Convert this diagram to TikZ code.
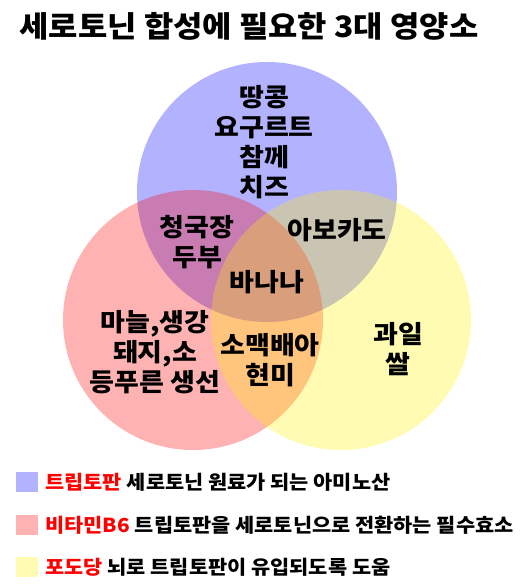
\documentclass[tikz,border=0pt]{standalone}
\usepackage{fontspec}
\setmainfont{Noto Sans CJK KR}[FakeStretch=1.08]
\usetikzlibrary{positioning}
\tikzset{set/.style={circle,inner sep=0pt,minimum size=260pt,fill opacity=0.3},
food/.style={align=center,inner sep=0pt,font=\fontsize{25}{30}\selectfont\bfseries},
title/.style={inner sep=0pt,font=\fontsize{29.5}{30}\selectfont\bfseries},
key/.style={rectangle,inner sep=0pt,minimum width=22pt,minimum height=20pt},
keytext/.style={inner sep=0pt,font=\fontsize{19.3}{20}\selectfont\bfseries}}
\newcommand{\keyentry}[5]{
\node (#1) [key,fill=#3!30] at (27,#2) {};
\node (capt#1) [keytext,right=7pt of #1] {\textcolor{red}{#4} #5};
}
\begin{document}
\begin{tikzpicture}[x=1pt,y=-1pt]
  \useasboundingbox (0,0) rectangle (526,586);
  \node (title) [title] at (249,26) {세로토닌 합성에 필요한 3대 영양소};

  \node (tryp) [set,fill=blue] at (267,192) {};
  \node (b6) [set,fill=red] at (193,320) {};
  \node (glu) [set,fill=yellow] at (341,320) {};

  \node (trypf) [food] at (264,142) {땅콩\\요구르트\\참께\\치즈};
  \node (trypb6f) [food] at (197,242) {청국장\\두부};
  \node (trypgluf) [food] at (337,230) {아보카도};
  \node (allf) [food] at (267,282) {바나나};
  \node (b6f) [food] at (155,352) {마늘,생강\\돼지,소\\등푸른 생선};
  \node (b6gluf) [food] at (270,360) {소맥배아\\현미};
  \node (gluf) [food] at (398,349) {과일\\쌀};

  \keyentry{keytryp}{482}{blue}{트립토판}{세로토닌 원료가 되는 아미노산}
  \keyentry{keyb6}{525}{red}{비타민B6}{트립토판을 세로토닌으로 전환하는 필수효소}
  \keyentry{keyglu}{567}{yellow}{포도당}{뇌로 트립토판이 유입되도록 도움}
\end{tikzpicture}
\end{document}
